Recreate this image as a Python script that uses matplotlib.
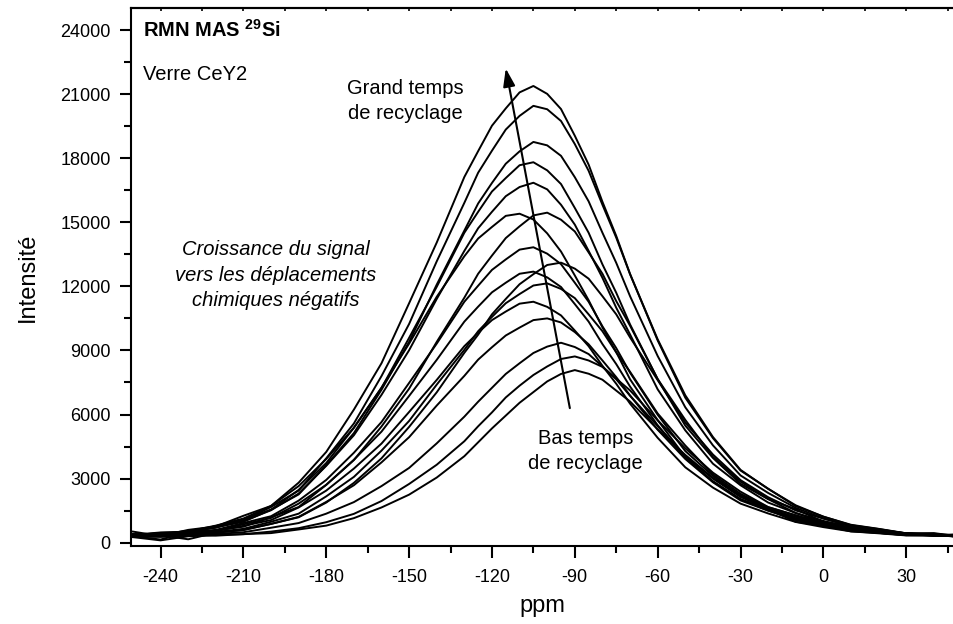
import matplotlib
matplotlib.use("Agg")
import matplotlib.pyplot as plt
from matplotlib.ticker import MultipleLocator, NullFormatter

plt.rcParams['font.family'] = ['Liberation Sans', 'DejaVu Sans']
plt.rcParams['axes.unicode_minus'] = False
plt.rcParams['mathtext.fontset'] = 'custom'
plt.rcParams['mathtext.rm'] = 'Liberation Sans'
plt.rcParams['mathtext.bf'] = 'Liberation Sans:bold'

# chemical shift grid (ppm), shared by all spectra
ppm = [-250, -240, -230, -220, -210, -200, -190, -180, -170, -160, -150, -140,
       -130, -125, -120, -115, -110, -105, -100, -95, -90, -85, -80, -75, -70,
       -60, -50, -40, -30, -20, -10, 0, 10, 20, 30, 40, 47]

# spectra, from longest to shortest recycle delay
int_a = [520, 310, 600, 760, 1260, 1720, 2810, 4250, 6230, 8400, 11210, 14050, 17120, 18330, 19520, 20330, 21080, 21380, 21010, 20300, 19050, 17700, 15960, 14360, 12580, 9470, 6790, 4900, 3380, 2530, 1710, 1220, 820, 640, 430, 450, 330]
int_b = [370, 480, 500, 780, 1050, 1670, 2440, 3950, 5580, 7800, 10240, 13170, 15910, 17320, 18350, 19340, 19980, 20450, 20290, 19740, 18660, 17410, 15820, 14280, 12570, 9520, 6900, 4950, 3410, 2520, 1750, 1220, 840, 650, 440, 420, 350]
int_c = [300, 150, 480, 720, 980, 1550, 2260, 3630, 5130, 7160, 9400, 12080, 14610, 15880, 16840, 17740, 18320, 18760, 18600, 18110, 17110, 15980, 14510, 13100, 11540, 8740, 6340, 4560, 3150, 2330, 1630, 1140, 790, 620, 420, 410, 300]
int_d = [410, 390, 560, 700, 1110, 1540, 2470, 3730, 5380, 7240, 9590, 11980, 14510, 15490, 16440, 17070, 17670, 17810, 17430, 16790, 15670, 14510, 13030, 11700, 10220, 7660, 5480, 3970, 2760, 2040, 1390, 1020, 690, 560, 390, 400, 320]
int_e = [330, 440, 490, 730, 1010, 1520, 2300, 3600, 5030, 6920, 9010, 11410, 13660, 14720, 15490, 16220, 16650, 16850, 16540, 15820, 14890, 13660, 12400, 11000, 9750, 7180, 5260, 3700, 2690, 1880, 1390, 920, 720, 490, 440, 340, 380]
int_f = [350, 460, 530, 800, 1130, 1720, 2650, 3920, 5380, 7260, 9320, 11510, 13410, 14240, 14780, 15300, 15400, 15130, 14480, 13630, 12510, 11350, 10080, 8920, 7650, 5740, 4010, 2860, 2040, 1570, 980, 800, 530, 460, 350, 360, 300]
int_g = [290, 400, 410, 580, 750, 1190, 1670, 2710, 3870, 5440, 7210, 9400, 11470, 12590, 13440, 14260, 14810, 15320, 15450, 15120, 14570, 13590, 12590, 11310, 10160, 7660, 5750, 4020, 2860, 2050, 1570, 980, 800, 530, 450, 350, 370]
int_h = [360, 370, 490, 600, 920, 1240, 1970, 2940, 4210, 5650, 7480, 9320, 11280, 12030, 12770, 13260, 13720, 13830, 13530, 13040, 12170, 11280, 10130, 9110, 7960, 5990, 4290, 3130, 2190, 1630, 1140, 840, 600, 480, 370, 360, 310]
int_i = [280, 350, 160, 470, 590, 880, 1190, 1880, 2800, 3950, 5420, 7040, 8890, 9740, 10690, 11410, 12100, 12570, 13000, 13110, 12830, 12360, 11540, 10690, 9610, 7610, 5620, 4130, 2930, 2130, 1510, 1130, 770, 610, 440, 390, 330]
int_j = [340, 360, 460, 570, 860, 1160, 1830, 2710, 3880, 5200, 6870, 8560, 10350, 11050, 11720, 12170, 12590, 12690, 12420, 11970, 11170, 10350, 9300, 8360, 7310, 5500, 3960, 2880, 2030, 1510, 1060, 790, 570, 460, 360, 350, 300]
int_k = [300, 360, 380, 500, 650, 980, 1360, 2170, 3080, 4310, 5700, 7400, 9030, 9900, 10570, 11210, 11640, 12040, 12140, 11880, 11450, 10690, 9900, 8910, 8000, 6050, 4550, 3200, 2290, 1660, 1280, 830, 680, 470, 400, 330, 340]
int_l = [330, 350, 440, 540, 790, 1060, 1650, 2440, 3470, 4640, 6120, 7620, 9200, 9830, 10420, 10820, 11190, 11280, 11040, 10640, 9930, 9200, 8280, 7440, 6510, 4910, 3530, 2580, 1830, 1370, 970, 730, 530, 440, 340, 340, 310]
int_m = [290, 350, 360, 470, 600, 880, 1210, 1910, 2690, 3760, 4940, 6420, 7810, 8570, 9150, 9700, 10070, 10420, 10500, 10310, 9860, 9290, 8530, 7750, 6890, 5290, 3920, 2830, 1980, 1500, 1100, 780, 590, 470, 360, 340, 310]
int_n = [270, 320, 330, 410, 490, 700, 920, 1360, 1900, 2650, 3500, 4650, 5900, 6600, 7250, 7900, 8400, 8880, 9180, 9360, 9160, 8830, 8250, 7650, 6880, 5460, 4050, 3000, 2140, 1590, 1140, 880, 620, 510, 380, 350, 310]
int_o = [260, 110, 300, 370, 400, 520, 680, 960, 1350, 1950, 2750, 3650, 4750, 5450, 6100, 6800, 7350, 7850, 8250, 8600, 8720, 8530, 8230, 7680, 7130, 5730, 4420, 3280, 2390, 1670, 1280, 950, 690, 530, 430, 340, 320]
int_q = [290, 270, 330, 330, 400, 450, 620, 800, 1150, 1650, 2250, 3050, 4050, 4700, 5350, 5950, 6550, 7050, 7550, 7900, 8080, 7910, 7630, 7120, 6610, 5310, 4110, 3040, 2230, 1560, 1210, 900, 660, 510, 410, 330, 320]

spectra = [int_a, int_b, int_c, int_d, int_e, int_f, int_g, int_h,
           int_i, int_j, int_k, int_l, int_m, int_n, int_o, int_q]

fig = plt.figure(figsize=(9.54, 6.24), dpi=100)
ax = fig.add_axes([131 / 954, 1 - 545.7 / 624, (954 - 131) / 954, (545.7 - 8) / 624])

for s in spectra:
    ax.plot(ppm, s, color='black', lw=1.4)

ax.set_xlim(-250.7, 47.3)
ax.set_ylim(-140, 25030)

ax.xaxis.set_major_locator(MultipleLocator(30))
ax.xaxis.set_minor_locator(MultipleLocator(15))
ax.yaxis.set_major_locator(MultipleLocator(3000))
ax.yaxis.set_minor_locator(MultipleLocator(1500))

ax.spines['right'].set_visible(False)
for side in ['left', 'bottom', 'top']:
    ax.spines[side].set_linewidth(1.5)

ax.tick_params(axis='x', which='major', direction='out', length=8.5, width=1.5,
               labelsize=13, pad=8)
ax.tick_params(axis='x', which='minor', direction='out', length=5, width=1.5)
ax.tick_params(axis='y', which='major', direction='out', length=7.7, width=1.5,
               labelsize=13, pad=7)
ax.tick_params(axis='y', which='minor', direction='out', length=4.8, width=1.5)

# small inward ticks on the top frame
top = ax.secondary_xaxis('top')
top.xaxis.set_major_locator(MultipleLocator(30))
top.xaxis.set_minor_locator(MultipleLocator(15))
top.xaxis.set_major_formatter(NullFormatter())
top.tick_params(which='both', direction='in', length=2, width=1.2)
top.spines['top'].set_linewidth(1.5)

ax.set_xlabel("ppm", fontsize=17, labelpad=7)
ax.set_ylabel("Intensité", fontsize=17, labelpad=15)

ax.text(0.0146, 0.959, r"RMN MAS $^{\mathbf{29}}$Si", transform=ax.transAxes,
        fontsize=14.5, fontweight='bold', va='center', ha='left')
ax.text(0.0146, 0.877, "Verre CeY2", transform=ax.transAxes,
        fontsize=14.5, va='center', ha='left')
ax.text(0.333, 0.827, "Grand temps\nde recyclage", transform=ax.transAxes,
        fontsize=14.5, va='center', ha='center', linespacing=1.45)
ax.text(0.552, 0.176, "Bas temps\nde recyclage", transform=ax.transAxes,
        fontsize=14.5, va='center', ha='center', linespacing=1.45)
ax.text(0.176, 0.503, "Croissance du signal\nvers les déplacements\nchimiques négatifs",
        transform=ax.transAxes, fontsize=14.5, style='italic', va='center',
        ha='center', linespacing=1.45)

ax.annotate("", xy=(-115, 22200), xytext=(-91.8, 6300),
            arrowprops=dict(arrowstyle='-|>,head_length=0.6,head_width=0.2',
                            color='black', lw=1.5, mutation_scale=18,
                            shrinkA=0, shrinkB=0))

fig.savefig("out.png", dpi=100)
